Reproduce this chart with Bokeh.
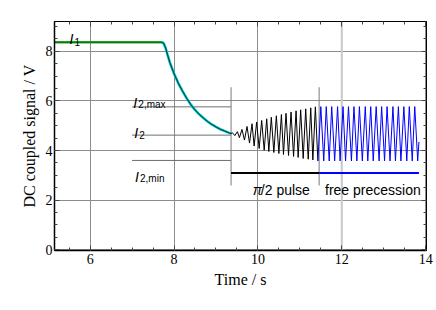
from bokeh.plotting import figure
from bokeh.models import Range1d, LinearAxis, SingleIntervalTicker, Span
from bokeh.core.properties import value
from bokeh.embed import file_html
from bokeh.resources import INLINE

# ---- data ----
flat_t = [5.15, 7.72]
flat_v = [8.36, 8.36]

decay_t = [7.70, 7.75, 7.80, 7.85, 7.90, 8.00, 8.10, 8.20, 8.30, 8.40, 8.50,
           8.60, 8.70, 8.80, 8.90, 9.00, 9.10, 9.20, 9.30, 9.36]
decay_v = [8.36, 8.33, 8.13, 7.83, 7.55, 7.10, 6.72, 6.40, 6.11, 5.85, 5.64,
           5.46, 5.31, 5.17, 5.05, 4.95, 4.86, 4.79, 4.72, 4.68]

nut_t = [9.36, 9.39, 9.45, 9.51, 9.56, 9.62, 9.68, 9.74, 9.80, 9.86, 9.91,
         9.97, 10.03, 10.09, 10.15, 10.21, 10.26, 10.32, 10.38, 10.44, 10.50,
         10.56, 10.61, 10.67, 10.73, 10.79, 10.85, 10.91, 10.96, 11.02, 11.08,
         11.14, 11.20, 11.26, 11.31, 11.37, 11.43]
nut_v = [4.68, 4.72, 4.60, 4.76, 4.52, 4.85, 4.42, 4.97, 4.30, 5.08, 4.18,
         5.15, 4.08, 5.21, 4.01, 5.28, 3.96, 5.34, 3.92, 5.40, 3.88,
         5.45, 3.84, 5.50, 3.80, 5.55, 3.76, 5.60, 3.72, 5.64, 3.68,
         5.68, 3.65, 5.72, 3.62, 5.76, 3.58]

fp_t = [11.43, 11.50, 11.57, 11.63, 11.70, 11.76, 11.83, 11.90, 11.96, 12.03,
        12.09, 12.16, 12.23, 12.29, 12.36, 12.42, 12.49, 12.56, 12.62, 12.69,
        12.75, 12.82, 12.89, 12.95, 13.02, 13.08, 13.15, 13.22, 13.28, 13.35,
        13.41, 13.48, 13.55, 13.61, 13.68, 13.74, 13.81, 13.84]
fp_v = [3.58, 5.77, 3.58, 5.77, 3.58, 5.77, 3.58, 5.77, 3.58, 5.77,
        3.58, 5.77, 3.58, 5.77, 3.58, 5.77, 3.58, 5.77, 3.58, 5.77,
        3.58, 5.77, 3.58, 5.77, 3.58, 5.77, 3.58, 5.77, 3.58, 5.77,
        3.58, 5.77, 3.58, 5.77, 3.58, 5.77, 3.58, 4.35]

level_names = ["2,max", "2", "2,min"]
level_vals = [5.76, 4.62, 3.60]
level_start = 7.0
pulse_start = 9.36
pulse_end = 11.46
precession_end = 13.84
marker_top = 6.55
marker_bottom = 2.59
bar_level = 3.09

x_tick_values = [6, 8, 10, 12, 14]
y_tick_values = [0, 2, 4, 6, 8]
x_ticks_interval = 2
y_ticks_interval = 2

# ---- figure ----
p = figure(width=436, height=302, x_range=Range1d(5.15, 14.02),
           y_range=Range1d(-0.03, 9.2), output_backend="svg",
           toolbar_location=None, min_border_left=54, min_border_right=10,
           min_border_top=21, min_border_bottom=52,
           x_axis_label="Time / s", y_axis_label="DC coupled signal / V")
p.background_fill_color = "white"
p.border_fill_color = "white"
p.outline_line_color = "black"
p.outline_line_width = 1


def ticker(iv):
    return SingleIntervalTicker(interval=iv, num_minor_ticks=4)


p.xaxis.ticker = ticker(x_ticks_interval)
p.yaxis.ticker = ticker(y_ticks_interval)
p.xgrid.ticker = ticker(x_ticks_interval)
p.ygrid.ticker = ticker(y_ticks_interval)
p.xgrid.grid_line_color = "#8c8c8c"
p.ygrid.grid_line_color = "#8c8c8c"
p.xgrid.grid_line_width = 1
p.ygrid.grid_line_width = 1

for ax in (p.xaxis, p.yaxis):
    ax.major_tick_in = 5
    ax.major_tick_out = 0
    ax.minor_tick_in = 3
    ax.minor_tick_out = 0
    ax.axis_line_color = "black"
    ax.axis_line_width = 1.5
    ax.major_tick_line_color = "#444444"
    ax.minor_tick_line_color = "#444444"
    ax.major_label_text_font = "Liberation Serif"
    ax.major_label_text_font_size = "14px"
    ax.major_label_text_color = "black"
    ax.axis_label_text_font = "Liberation Serif"
    ax.axis_label_text_font_size = "16px"
    ax.axis_label_text_font_style = "normal"
    ax.axis_label_text_color = "black"
p.xaxis.major_label_standoff = 3
p.xaxis.axis_label_standoff = 4
p.yaxis.major_label_standoff = 2
p.yaxis.axis_label_standoff = 5

for side, iv, vals in (("above", x_ticks_interval, x_tick_values),
                       ("right", y_ticks_interval, y_tick_values)):
    ax = LinearAxis(ticker=ticker(iv), major_label_standoff=0,
                    major_label_overrides={v: "" for v in vals},
                    major_label_text_font_size="10px",
                    major_tick_in=5, major_tick_out=0,
                    minor_tick_in=3, minor_tick_out=0, axis_line_color="black",
                    major_tick_line_color="#444444", minor_tick_line_color="#444444")
    p.add_layout(ax, side)

p.add_layout(Span(location=12, dimension="height", line_color="#c8c8c8",
                  line_width=2, level="underlay"))

# ---- annotation lines ----
for v in level_vals:
    p.line([level_start, pulse_start], [v, v], line_color="#6e6e6e", line_width=1)
for xm in (pulse_start, pulse_end):
    p.line([xm, xm], [marker_bottom, marker_top], line_color="#7a7a7a", line_width=1)
p.line([pulse_start, pulse_end], [bar_level, bar_level], line_color="black", line_width=2)
p.line([pulse_end, precession_end], [bar_level, bar_level], line_color="#0000ff", line_width=2)

# ---- signal ----
p.line(flat_t, flat_v, line_color="#22aa22", line_width=2.5)
p.line(flat_t, flat_v, line_color="black", line_width=0.8, line_dash="1 1")
p.line(decay_t, decay_v, line_color="#00c4c4", line_width=2.6)
p.line(decay_t, decay_v, line_color="black", line_width=0.7)
p.line(nut_t, nut_v, line_color="black", line_width=1)
p.line(fp_t, fp_v, line_color="#0000ff", line_width=1)

# ---- labels ----
sans = value("Liberation Sans")


def ilabel(x, y, ysub, sub):
    p.text(x=[x], y=[y], text=["I"], text_font=sans, text_font_size="14px",
           text_font_style="italic", text_align="left", text_baseline="alphabetic",
           text_color="black")
    p.text(x=[x], y=[ysub], text=[sub], text_font=sans, text_font_size="10px",
           text_align="left", text_baseline="alphabetic", text_color="black",
           x_offset=5)


ilabel(5.51, 8.48, 8.36, "1")
ilabel(7.03, 5.90, 5.84, level_names[0])
ilabel(7.05, 4.69, 4.61, level_names[1])
ilabel(7.07, 2.95, 2.89, level_names[2])

p.text(x=[9.88], y=[2.42], text=["\u03c0"], text_font=sans, text_font_size="14px",
       text_font_style="italic", text_align="left", text_baseline="alphabetic",
       text_color="black")
p.text(x=[9.88], y=[2.42], text=["/2 pulse"], text_font=sans, text_font_size="14px",
       text_align="left", text_baseline="alphabetic", text_color="black", x_offset=8)
p.text(x=[11.60], y=[2.42], text=["free precession"], text_font=sans,
       text_font_size="14px", text_align="left", text_baseline="alphabetic",
       text_color="black")

open("out.html", "w").write(file_html(p, INLINE))
